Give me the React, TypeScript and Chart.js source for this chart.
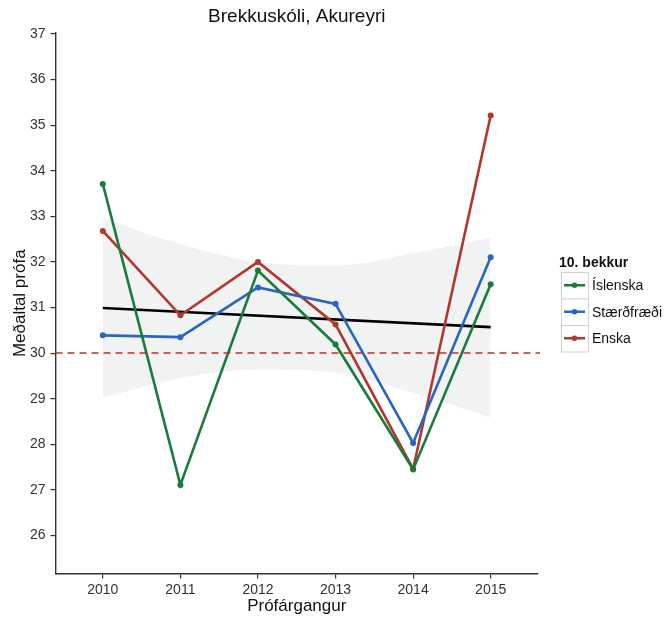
import React, { useEffect, useRef } from "react";
import { Chart, registerables } from "chart.js";

Chart.register(...registerables);

// ---- data ----
const years = [2010, 2011, 2012, 2013, 2014, 2015];
const islenska = [33.71, 27.11, 31.81, 30.19, 27.45, 31.51];
const staerdfraedi = [30.39, 30.35, 31.44, 31.08, 28.03, 32.1];
const enska = [32.68, 30.83, 32.0, 30.63, 27.46, 35.21];
const trendYears = [2010, 2015];
const trendValues = [30.99, 30.57];
const bandUpper = [32.96, 32.39, 32.0, 31.92, 32.19, 32.53];
const bandLower = [29.02, 29.45, 29.64, 29.57, 29.13, 28.59];
const referenceValue = 30;
const yTickValues = [26, 27, 28, 29, 30, 31, 32, 33, 34, 35, 36, 37];
const seriesNames = ["Íslenska", "Stærðfræði", "Enska"];
const seriesColors = ["#1b7b3a", "#2a65c0", "#b1372d"];
const chartTitle = "Brekkuskóli, Akureyri";
const xTitle = "Prófárgangur";
const yTitle = "Meðaltal prófa";
const legendTitle = "10. bekkur";

const FONT = "'Liberation Sans', Arial, sans-serif";
const W = 664;
const H = 619;

const pts = (xs: number[], ys: number[]) => xs.map((x, i) => ({ x, y: ys[i] }));

const annotPlugin = {
  id: "annot",
  afterDatasetsDraw(chart: any) {
    const { ctx, chartArea, scales } = chart;
    const y = scales.y.getPixelForValue(referenceValue);
    ctx.save();
    ctx.strokeStyle = "#b8322a";
    ctx.lineWidth = 1.5;
    ctx.setLineDash([7, 5]);
    ctx.beginPath();
    ctx.moveTo(chartArea.left, y);
    ctx.lineTo(chartArea.right + 2, y);
    ctx.stroke();
    ctx.restore();
  },
  afterDraw(chart: any) {
    const { ctx, chartArea } = chart;
    const cx = (chartArea.left + chartArea.right) / 2;
    const cy = (chartArea.top + chartArea.bottom) / 2;
    ctx.save();
    ctx.fillStyle = "#111";
    ctx.textAlign = "center";
    ctx.textBaseline = "middle";
    ctx.font = `19px ${FONT}`;
    ctx.fillText(chartTitle, cx, 17);
    ctx.font = `17px ${FONT}`;
    ctx.fillText(xTitle, cx, 606);
    ctx.save();
    ctx.translate(20, cy);
    ctx.rotate(-Math.PI / 2);
    ctx.fillText(yTitle, 0, 0);
    ctx.restore();

    // legend
    ctx.textAlign = "left";
    ctx.font = `bold 14px ${FONT}`;
    ctx.fillText(legendTitle, 559, 263);
    const bx = 561;
    const bw = 27;
    const bh = 26.5;
    const by0 = 272;
    ctx.font = `14px ${FONT}`;
    seriesNames.forEach((name, i) => {
      const by = by0 + i * bh;
      ctx.fillStyle = "#ffffff";
      ctx.fillRect(bx, by, bw, bh);
      ctx.strokeStyle = "#d0d0d0";
      ctx.lineWidth = 1;
      ctx.strokeRect(bx + 0.5, by + 0.5, bw, bh);
      const ly = by + bh / 2;
      ctx.strokeStyle = seriesColors[i];
      ctx.lineWidth = 2.5;
      ctx.beginPath();
      ctx.moveTo(bx + 3, ly);
      ctx.lineTo(bx + bw - 3, ly);
      ctx.stroke();
      ctx.fillStyle = seriesColors[i];
      ctx.beginPath();
      ctx.arc(bx + bw / 2, ly, 2.8, 0, Math.PI * 2);
      ctx.fill();
      ctx.fillStyle = "#111";
      ctx.fillText(name, bx + bw + 4, ly + 1);
    });
    ctx.restore();
  },
};

export default function App() {
  const ref = useRef<HTMLCanvasElement | null>(null);
  useEffect(() => {
    document.body.style.margin = "0";
    const canvas = ref.current!;
    const seriesData = [islenska, staerdfraedi, enska];
    const chart = new Chart(canvas, {
      type: "line",
      data: {
        datasets: [
          {
            label: "lower",
            data: pts(years, bandLower),
            borderWidth: 0,
            pointRadius: 0,
            fill: false,
            borderColor: "rgba(0,0,0,0)",
            cubicInterpolationMode: "monotone",
            order: 10,
          },
          {
            label: "upper",
            data: pts(years, bandUpper),
            borderWidth: 0,
            pointRadius: 0,
            fill: "-1",
            backgroundColor: "#f1f3f3",
            borderColor: "rgba(0,0,0,0)",
            cubicInterpolationMode: "monotone",
            order: 9,
          },
          {
            label: "trend",
            data: pts(trendYears, trendValues),
            borderColor: "#000",
            borderWidth: 2.6,
            pointRadius: 0,
            fill: false,
            order: 5,
          },
          ...seriesData.map((vals, i) => ({
            label: seriesNames[i],
            data: pts(years, vals),
            borderColor: seriesColors[i],
            backgroundColor: seriesColors[i],
            borderWidth: 2.6,
            pointRadius: 3,
            pointBorderWidth: 0,
            fill: false,
            order: i + 1,
          })),
        ],
      },
      options: {
        responsive: false,
        animation: false,
        devicePixelRatio: 1,
        layout: { padding: { top: 33, right: 126, left: 0, bottom: 0 } },
        plugins: {
          legend: { display: false },
          tooltip: { enabled: false },
          title: { display: false },
          filler: { drawTime: "beforeDatasetsDraw" },
        },
        scales: {
          x: {
            type: "linear",
            min: 2009.39,
            max: 2015.61,
            afterFit: (s: any) => {
              s.height = 619 - 573.5;
            },
            afterBuildTicks: (s: any) => {
              s.ticks = years.map((v) => ({ value: v }));
            },
            ticks: {
              callback: (v: any) => String(v),
              color: "#333",
              font: { family: FONT, size: 14 },
              padding: 3,
              maxRotation: 0,
              autoSkip: false,
            },
            grid: { display: true, drawOnChartArea: false, drawTicks: true, tickLength: 5, color: "#333", lineWidth: 1.2 },
            border: { display: true, color: "#333", width: 1.4 },
          },
          y: {
            type: "linear",
            min: 25.167,
            max: 37.02,
            afterFit: (s: any) => {
              s.width = 55.5;
            },
            afterBuildTicks: (s: any) => {
              s.ticks = yTickValues.map((v) => ({ value: v }));
            },
            ticks: {
              color: "#333",
              font: { family: FONT, size: 14 },
              padding: 5,
              autoSkip: false,
            },
            grid: { display: true, drawOnChartArea: false, drawTicks: true, tickLength: 5, color: "#333", lineWidth: 1.2 },
            border: { display: true, color: "#333", width: 1.4 },
          },
        },
      },
      plugins: [annotPlugin],
    } as any);
    return () => chart.destroy();
  }, []);
  return (
    <div style={{ position: "absolute", left: 0, top: 0, width: W, height: H }}>
      <canvas ref={ref} width={W} height={H} style={{ width: W, height: H, display: "block" }} />
    </div>
  );
}
